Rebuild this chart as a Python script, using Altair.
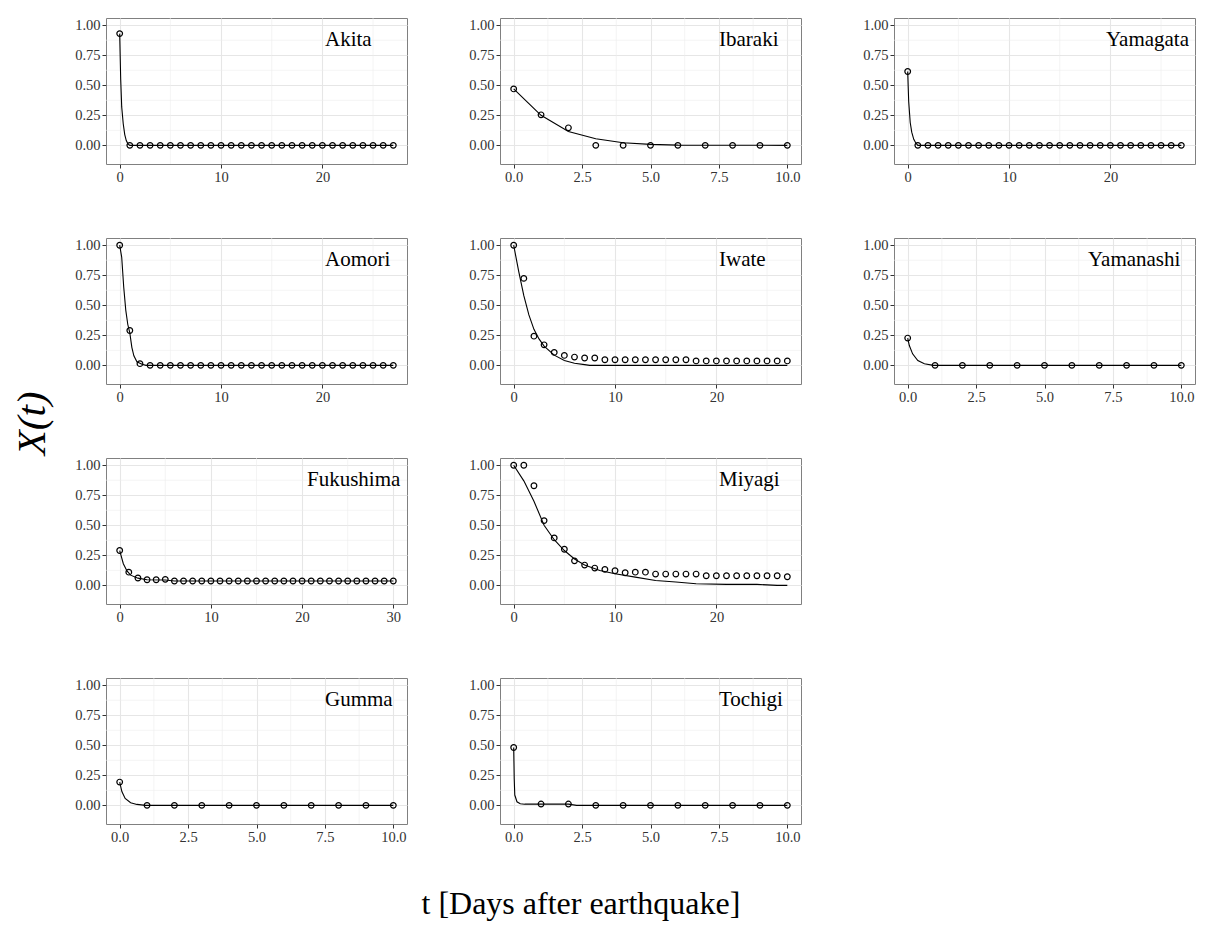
import altair as alt
import pandas as pd

FONT = "Liberation Serif"

# ---------------- data ----------------
days27 = list(range(28))
days30 = list(range(31))
days10 = list(range(11))

akita_pts = [0.93] + [0.0] * 27
akita_line_t = [0, 0.1, 0.2, 0.35, 0.5, 0.65, 0.8, 1.0, 27]
akita_line_x = [0.93, 0.55, 0.32, 0.18, 0.09, 0.04, 0.015, 0.0, 0.0]

aomori_pts = [1.0, 0.29, 0.014] + [0.0] * 25
aomori_line_t = [0, 0.2, 0.4, 0.6, 0.8, 1.0, 1.2, 1.4, 1.7, 2.2, 2.6, 27]
aomori_line_x = [1.0, 0.9, 0.65, 0.46, 0.34, 0.27, 0.15, 0.08, 0.03, 0.01, 0.0, 0.0]

fukushima_pts = [0.29, 0.11, 0.061, 0.047, 0.047, 0.05] + [0.036] * 25
fukushima_line_t = [0, 0.4, 0.8, 1.2, 2, 3, 5, 6, 30]
fukushima_line_x = [0.29, 0.18, 0.12, 0.085, 0.06, 0.047, 0.045, 0.036, 0.036]

gumma_pts = [0.194] + [0.0] * 10
gumma_line_t = [0, 0.08, 0.2, 0.4, 0.63, 0.95, 10]
gumma_line_x = [0.194, 0.115, 0.058, 0.022, 0.008, 0.0, 0.0]

ibaraki_pts = [0.47, 0.254, 0.146, 0.0, 0.0, 0.0, 0.0, 0.0, 0.0, 0.0, 0.0]
ibaraki_line_t = [0, 0.5, 1, 2, 3, 4, 5, 6, 10]
ibaraki_line_x = [0.47, 0.36, 0.25, 0.115, 0.055, 0.022, 0.008, 0.002, 0.0]

iwate_pts = [1.0, 0.724, 0.243, 0.171, 0.108, 0.083, 0.069, 0.061, 0.061,
             0.047, 0.047, 0.047, 0.047, 0.047, 0.047, 0.047, 0.047, 0.047] + [0.037] * 10
iwate_line_t = [0, 0.5, 1, 1.5, 2, 2.5, 3, 4, 5, 6, 7, 7.5, 27]
iwate_line_x = [1.0, 0.78, 0.58, 0.42, 0.3, 0.22, 0.16, 0.085, 0.04, 0.018, 0.006, 0.0, 0.0]

miyagi_pts = [1.0, 1.0, 0.829, 0.539, 0.395, 0.301, 0.204, 0.169, 0.144, 0.133,
              0.122, 0.105, 0.11, 0.11, 0.094, 0.094, 0.094, 0.094, 0.094] + [0.08] * 8 + [0.072]
miyagi_line_t = [0, 1, 2, 3, 4, 5, 6, 7, 8.5, 10, 12, 14, 16, 18, 21, 24, 26, 27]
miyagi_line_x = [1.0, 0.87, 0.7, 0.5, 0.38, 0.29, 0.22, 0.17, 0.124, 0.097, 0.069,
                 0.041, 0.028, 0.014, 0.008, 0.008, 0.0, 0.0]

tochigi_pts = [0.482, 0.011, 0.011, 0.0, 0.0, 0.0, 0.0, 0.0, 0.0, 0.0, 0.0]
tochigi_line_t = [0, 0.02, 0.04, 0.12, 0.24, 0.4, 2.0, 2.3, 10]
tochigi_line_x = [0.482, 0.22, 0.086, 0.03, 0.014, 0.01, 0.01, 0.0, 0.0]

yamagata_pts = [0.615] + [0.0] * 27
yamagata_line_t = [0, 0.1, 0.25, 0.4, 0.6, 0.8, 1.0, 27]
yamagata_line_x = [0.615, 0.365, 0.19, 0.11, 0.05, 0.02, 0.0, 0.0]

yamanashi_pts = [0.227] + [0.0] * 10
yamanashi_line_t = [0, 0.06, 0.18, 0.37, 0.61, 0.94, 10]
yamanashi_line_x = [0.227, 0.165, 0.096, 0.04, 0.014, 0.0, 0.0]

# tick labels
y_major = [0, 0.25, 0.5, 0.75, 1.0]
y_minor = [0.125, 0.375, 0.625, 0.875]
x_major_27 = [0, 10, 20]
x_minor_27 = [5, 15, 25]
x_major_30 = [0, 10, 20, 30]
x_minor_30 = [5, 15, 25]
x_major_10 = [0, 2.5, 5, 7.5, 10]
x_minor_10 = [1.25, 3.75, 6.25, 8.75]

# ---------------- styling / layout ----------------
W, H = 301, 146
YDOM = [-0.155, 1.06]
XSET = {
    "27": dict(domain=[-1.35, 28.35], major=x_major_27, minor=x_minor_27, fmt="d"),
    "30": dict(domain=[-1.5, 31.5], major=x_major_30, minor=x_minor_30, fmt="d"),
    "10": dict(domain=[-0.5, 10.5], major=x_major_10, minor=x_minor_10, fmt=".1f"),
}


def panel(name, pt_t, pt_x, ln_t, ln_x, kind, label_px):
    s = XSET[kind]
    xs = alt.Scale(domain=s["domain"], nice=False, zero=False)
    ys = alt.Scale(domain=YDOM, nice=False, zero=False)
    xaxis = alt.Axis(values=s["major"], format=s["fmt"], title=None)
    yaxis = alt.Axis(values=y_major, format=".2f", title=None)
    minor_x = alt.Chart(pd.DataFrame({"v": s["minor"]})).mark_rule(
        color="#ececec", strokeWidth=0.6).encode(
        x=alt.X("v:Q", scale=xs, axis=xaxis))
    minor_y = alt.Chart(pd.DataFrame({"v": y_minor})).mark_rule(
        color="#ececec", strokeWidth=0.6).encode(
        y=alt.Y("v:Q", scale=ys, axis=yaxis))
    line = alt.Chart(pd.DataFrame({"t": ln_t, "x": ln_x})).mark_line(
        color="black", strokeWidth=1.1).encode(
        x=alt.X("t:Q", scale=xs, axis=xaxis),
        y=alt.Y("x:Q", scale=ys, axis=yaxis))
    pts = alt.Chart(pd.DataFrame({"t": pt_t, "x": pt_x})).mark_point(
        shape="circle", filled=False, color="black", size=32,
        strokeWidth=1.2, opacity=1).encode(
        x=alt.X("t:Q", scale=xs, axis=xaxis),
        y=alt.Y("x:Q", scale=ys, axis=yaxis))
    txt = alt.Chart(pd.DataFrame({"n": [name]})).mark_text(
        align="left", baseline="middle", font=FONT, fontSize=21,
        color="black").encode(
        x=alt.value(label_px), y=alt.value(22), text="n:N")
    return alt.layer(minor_x, minor_y, line, pts, txt).properties(width=W, height=H)


def blank():
    return alt.Chart(pd.DataFrame({"n": [""]})).mark_text().encode(
        x=alt.value(0), y=alt.value(0), text="n:N"
    ).properties(width=W, height=H, view=alt.ViewConfig(strokeOpacity=0))


p_akita = panel("Akita", days27, akita_pts, akita_line_t, akita_line_x, "27", 219)
p_aomori = panel("Aomori", days27, aomori_pts, aomori_line_t, aomori_line_x, "27", 219)
p_fuku = panel("Fukushima", days30, fukushima_pts, fukushima_line_t, fukushima_line_x, "30", 201)
p_gumma = panel("Gumma", days10, gumma_pts, gumma_line_t, gumma_line_x, "10", 219)
p_ibaraki = panel("Ibaraki", days10, ibaraki_pts, ibaraki_line_t, ibaraki_line_x, "10", 219)
p_iwate = panel("Iwate", days27, iwate_pts, iwate_line_t, iwate_line_x, "27", 219)
p_miyagi = panel("Miyagi", days27, miyagi_pts, miyagi_line_t, miyagi_line_x, "27", 219)
p_tochigi = panel("Tochigi", days10, tochigi_pts, tochigi_line_t, tochigi_line_x, "10", 219)
p_yamagata = panel("Yamagata", days27, yamagata_pts, yamagata_line_t, yamagata_line_x, "27", 212)
p_yamanashi = panel("Yamanashi", days10, yamanashi_pts, yamanashi_line_t, yamanashi_line_x, "10", 194)

grid = alt.concat(
    p_akita, p_ibaraki, p_yamagata,
    p_aomori, p_iwate, p_yamanashi,
    p_fuku, p_miyagi, blank(),
    p_gumma, p_tochigi,
    columns=3, spacing={"row": 74, "column": 93}, bounds="flush",
).properties(
    title=alt.TitleParams("t [Days after earthquake]", orient="bottom",
                          anchor="middle", font=FONT, fontSize=32,
                          fontWeight="normal", color="black", offset=45, dx=-54))

chart = alt.hconcat(grid).properties(
    title=alt.TitleParams("X(t)", orient="left", anchor="middle", font=FONT,
                          fontSize=41, fontStyle="italic", fontWeight="normal",
                          color="black", offset=20, dx=45),
    padding={"left": 12, "top": 16, "right": 5, "bottom": 5},
).configure_axis(
    labelFont=FONT, labelFontSize=14.5, labelColor="#333333",
    tickColor="#333333", tickSize=4, tickWidth=1, domain=False,
    grid=True, gridColor="#e6e6e6", gridWidth=1.1, labelPadding=2,
).configure_view(
    stroke="#808080", strokeWidth=1,
).configure_concat(spacing=0)

chart.save("out.html", embed_options={"renderer": "svg", "actions": False})
